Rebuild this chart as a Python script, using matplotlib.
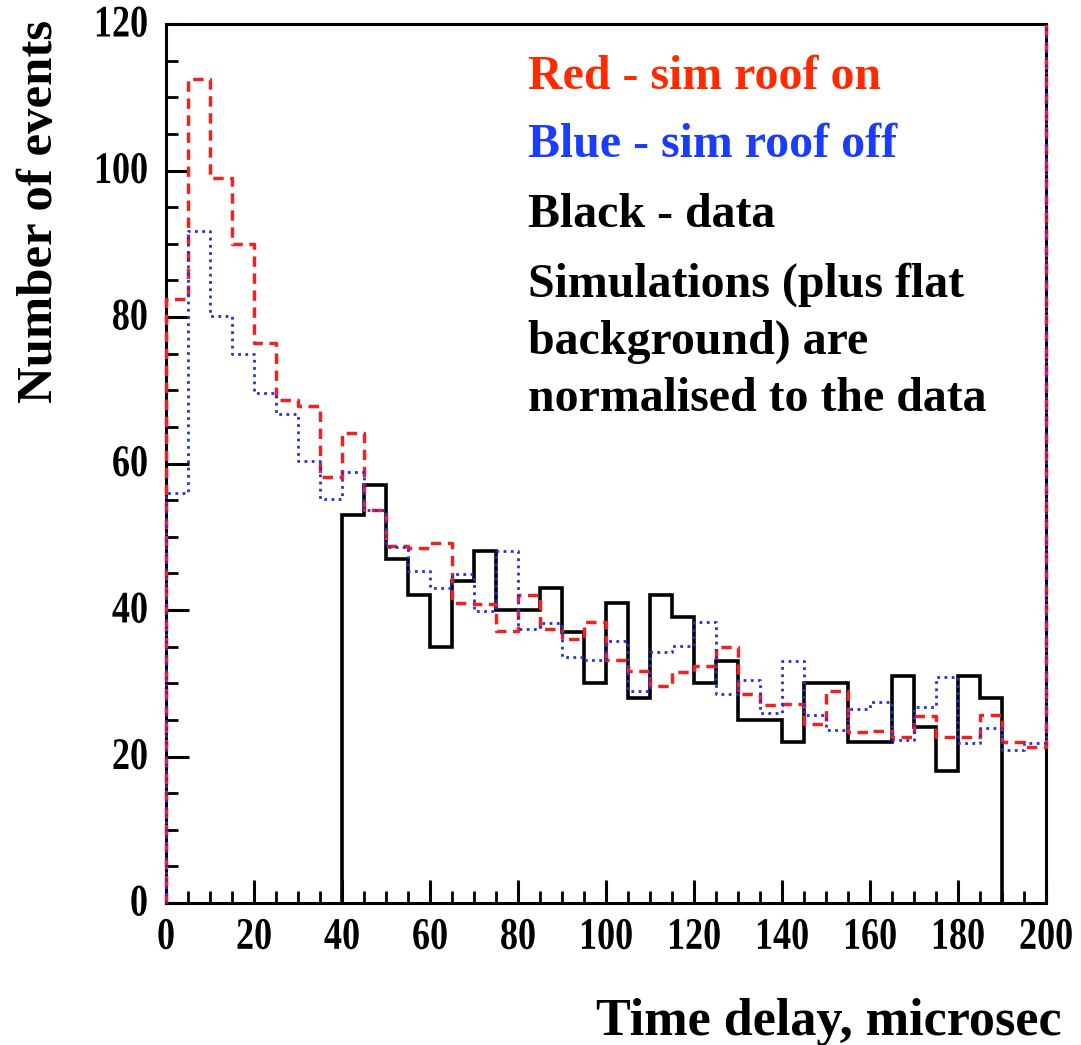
import numpy as np
import matplotlib
matplotlib.use("Agg")
import matplotlib.pyplot as plt
import matplotlib.patheffects as pe
from matplotlib.transforms import Affine2D
from matplotlib.ticker import MultipleLocator

# 5 microsec bins from 0 to 200, data only filled between 40 and 190
bin_edges = np.arange(0, 205, 5)
data_edges = np.arange(40, 195, 5)

sim_roof_on = [82.5, 112.5, 99.0, 90.0, 76.5, 68.7, 67.8, 58.2, 64.2, 53.6,
               48.7, 48.5, 49.2, 41.0, 40.8, 37.2, 42.0, 37.4, 36.1, 38.3,
               33.2, 31.7, 29.6, 31.6, 32.3, 34.9, 28.6, 27.0, 27.2, 24.4,
               29.0, 23.3, 23.5, 22.7, 25.5, 22.7, 22.7, 25.6, 22.0, 21.3]
sim_roof_off = [56.0, 91.7, 80.1, 75.0, 69.6, 66.8, 60.3, 55.1, 58.9, 53.6,
                48.6, 45.3, 43.0, 44.9, 39.9, 48.1, 37.4, 38.2, 33.6, 33.2,
                35.7, 28.9, 34.3, 35.1, 38.3, 28.6, 30.4, 25.9, 33.0, 25.6,
                23.6, 26.5, 27.4, 22.3, 26.7, 30.9, 21.9, 23.9, 20.9, 21.9]
data_counts = [53, 57, 47, 42, 35, 44, 48, 40, 40, 43,
               37, 30, 41, 28, 42, 39, 30, 33, 25, 25,
               22, 30, 30, 22, 22, 31, 24, 18, 31, 28]

x_ticks = [0, 20, 40, 60, 80, 100, 120, 140, 160, 180, 200]
y_ticks = [0, 20, 40, 60, 80, 100, 120]

legend_lines = ["Red - sim roof on", "Blue - sim roof off", "Black - data",
                "Simulations (plus flat", "background) are",
                "normalised to the data"]
legend_colors = ["#ff2a00", "#1a3cff", "black", "black", "black", "black"]
legend_baselines = [89, 157, 227, 297, 354, 411]   # px from top


class Stretch(pe.AbstractPathEffect):
    # the tick numbers in the original are taller than plain Times
    def __init__(self, sy):
        super().__init__()
        self.sy = sy

    def draw_path(self, renderer, gc, tpath, affine, rgbFace=None):
        renderer.draw_path(gc, tpath, Affine2D().scale(1, self.sy) + affine, rgbFace)


def outline(edges, vals, end):
    # ROOT style histogram outline: up from 0, steps, then to `end`
    xs = np.repeat(edges, 2)
    ys = np.concatenate([[0], np.repeat(vals, 2), [end]])
    return xs, ys


plt.rcParams["font.family"] = "Liberation Serif"
plt.rcParams["font.weight"] = "bold"

W, H = 1081, 1045
fig = plt.figure(figsize=(W / 100, H / 100), dpi=100)
ax = fig.add_axes([166 / W, 142 / H, 880 / W, 879 / H])
ax.set_xlim(x_ticks[0], x_ticks[-1])
ax.set_ylim(y_ticks[0], y_ticks[-1])

ymax = y_ticks[-1]
ax.plot(*outline(data_edges, data_counts, 0), color="black", lw=2.6,
        solid_joinstyle="miter", clip_on=False, zorder=3)
ax.plot(*outline(bin_edges, sim_roof_on, ymax), color="#ee2222", lw=2.5,
        dashes=(3, 1.9), clip_on=False, zorder=4)
ax.plot(*outline(bin_edges, sim_roof_off, ymax), color="#2530d8", lw=2.0,
        dashes=(1, 1.6), clip_on=False, zorder=5)

for s in ax.spines.values():
    s.set_linewidth(2.2)

ax.set_xticks(x_ticks)
ax.set_yticks(y_ticks)
ax.xaxis.set_minor_locator(MultipleLocator(5))
ax.yaxis.set_minor_locator(MultipleLocator(5))
ax.tick_params(which="both", direction="in", top=False, right=False)
ax.tick_params(which="major", length=16.5, width=2.2, labelsize=26)
ax.tick_params(which="minor", length=8.5, width=2.0)
ax.tick_params(axis="x", which="major", pad=15)
ax.tick_params(axis="y", which="major", pad=13)
for lab in ax.get_xticklabels() + ax.get_yticklabels():
    lab.set_path_effects([Stretch(1.25)])

fig.text(63 / W, 1 - 20 / H, "Number of events", rotation=90,
         ha="right", va="top", fontsize=36.5)
fig.text(1062 / W, 1 - 1035 / H, "Time delay, microsec",
         ha="right", va="baseline", fontsize=37.5)

for txt, col, yb in zip(legend_lines, legend_colors, legend_baselines):
    fig.text(528 / W, 1 - yb / H, txt, color=col, fontsize=34.5,
             ha="left", va="baseline")

fig.savefig("out.png", dpi=100)
